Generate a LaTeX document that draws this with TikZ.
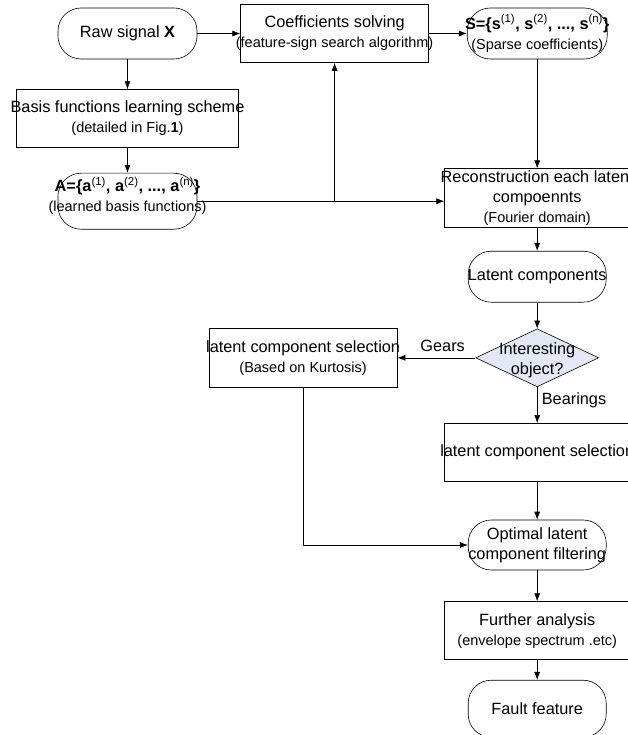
\documentclass[tikz,border=0pt]{standalone}
\usepackage{fontspec}
\setmainfont{Liberation Sans}
\usepackage{tikz}
\usetikzlibrary{arrows.meta,positioning,shapes.geometric}
\definecolor{SoftSlate}{RGB}{226,232,245}
\newcommand{\subtxt}[1]{{\fontsize{14.5}{20}\selectfont #1}}

\begin{document}
\begin{tikzpicture}[x=1pt, y=-1pt, >={Latex[length=8pt,width=6pt]}, line width=0.6pt,
    font=\fontsize{16.3}{20}\selectfont,
    term/.style={draw, rounded corners=23pt, minimum width=139pt, minimum height=51pt, inner sep=0pt},
    procbox/.style={draw, rectangle, minimum width=186pt, minimum height=58pt, inner sep=0pt},
    decide/.style={draw, diamond, fill=SoftSlate, minimum width=123pt, minimum height=58pt, inner sep=0pt},
    every label/.style={align=center, inner sep=0pt}]
    \useasboundingbox (0,0) rectangle (628,735);

    \node [term, label={center:Raw signal \textbf{X}}] (raw) at (127.5,33.5) {};
    \node [procbox, minimum width=188pt, right=43pt of raw, label={center:Coefficients solving\\\subtxt{(feature-sign search algorithm)}}] (coef) {};
    \node [term, minimum width=140pt, right=38pt of coef, label={center:\textbf{S=\{s}\textsuperscript{(1)}\textbf{, s}\textsuperscript{(2)}\textbf{, ..., s}\textsuperscript{(n)}\textbf{\}}\\\subtxt{(Sparse coefficients)}}] (sparse) {};
    \node [procbox, minimum width=222pt, below=30pt of raw, label={center:Basis functions learning scheme\\\subtxt{(detailed in Fig.\textbf{1})}}] (basis) {};
    \node [term, minimum height=56pt, below=25pt of basis, label={[yshift=5pt]center:\textbf{A=\{a}\textsuperscript{(1)}\textbf{, a}\textsuperscript{(2)}\textbf{, ..., a}\textsuperscript{(n)}\textbf{\}}\\\subtxt{(learned basis functions)}}] (learned) {};
    \node [procbox, minimum width=185pt, minimum height=59pt, below=109pt of sparse, label={center:Reconstruction each latent\\compoennts\\\subtxt{(Fourier domain)}}] (recon) {};
    \node [term, minimum width=138pt, below=23pt of recon, label={center:Latent components}] (latent) {};
    \node [decide, below=26pt of latent, label={[yshift=-2pt]center:Interesting\\object?}] (obj) {};
    \node [procbox, minimum width=188pt, minimum height=59pt, left=78pt of obj, label={center:latent component selection\\\subtxt{(Based on Kurtosis)}}] (kurt) {};
    \node [procbox, below=36pt of obj, label={center:latent component selection}] (bsel) {};
    \node [term, minimum width=138pt, minimum height=50pt, below=38pt of bsel, label={center:Optimal latent\\component filtering}] (optimal) {};
    \node [procbox, minimum width=185pt, below=31pt of optimal, label={center:Further analysis\\\subtxt{(envelope spectrum .etc)}}] (further) {};
    \node [term, minimum width=138pt, minimum height=57pt, below=20pt of further, label={center:Fault feature}] (fault) {};

    \coordinate (fork) at (coef.south |- learned.east);

    \draw [->] (raw) -- (coef);
    \draw [->] (coef) -- (sparse);
    \draw [->] (raw) -- (basis);
    \draw [->] (basis) -- (learned);
    \draw [->] (learned.east) -- (learned.east -| recon.west);
    \draw [->] (fork) -- (coef.south);
    \draw [->] (sparse) -- (recon);
    \draw [->] (recon) -- (latent);
    \draw [->] (latent) -- (obj);
    \draw [->] (obj) -- node[above=3pt, pos=0.42]{Gears} (kurt);
    \draw [->] (obj) -- node[right=1pt, pos=0.36]{Bearings} (bsel);
    \draw [->] (kurt) |- (optimal);
    \draw [->] (bsel) -- (optimal);
    \draw [->] (optimal) -- (further);
    \draw [->] (further) -- (fault);
\end{tikzpicture}
\end{document}
